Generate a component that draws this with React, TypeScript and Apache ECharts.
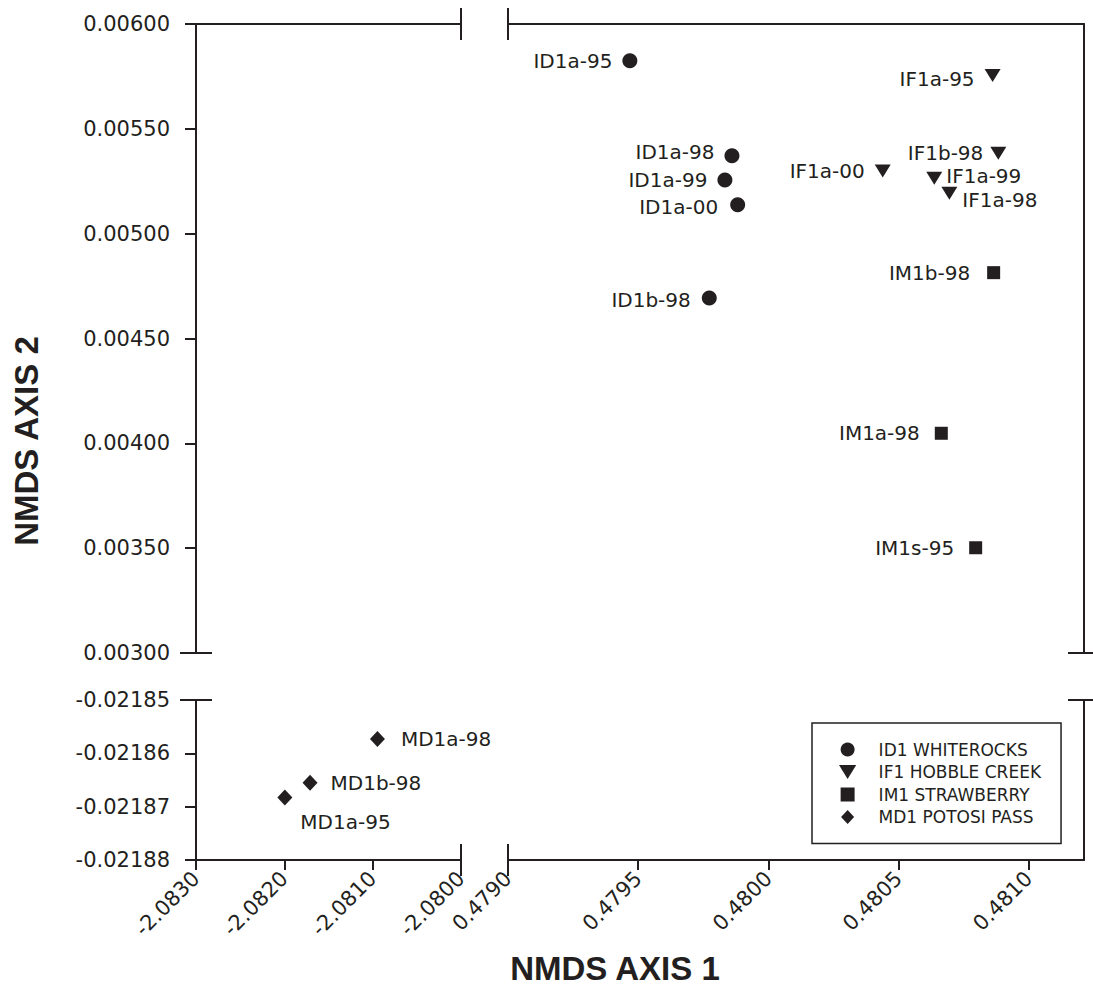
import React, { useEffect, useRef } from 'react';
import * as echarts from 'echarts';

// ---------- data ----------
const groupNames = ['ID1 WHITEROCKS', 'IF1 HOBBLE CREEK', 'IM1 STRAWBERRY', 'MD1 POTOSI PASS'];

const id1Names = ['ID1a-95', 'ID1a-98', 'ID1a-99', 'ID1a-00', 'ID1b-98'];
const id1X = [0.479468, 0.47986, 0.479833, 0.479882, 0.479773];
const id1Y = [0.005825, 0.005372, 0.005256, 0.005138, 0.004693];

const if1Names = ['IF1a-95', 'IF1b-98', 'IF1a-00', 'IF1a-99', 'IF1a-98'];
const if1X = [0.480861, 0.480883, 0.480439, 0.480637, 0.480695];
const if1Y = [0.005754, 0.005383, 0.005299, 0.005264, 0.005193];

const im1Names = ['IM1b-98', 'IM1a-98', 'IM1s-95'];
const im1X = [0.480865, 0.480664, 0.480796];
const im1Y = [0.004814, 0.004048, 0.003502];

const md1Names = ['MD1a-98', 'MD1b-98', 'MD1a-95'];
const md1X = [-2.080946, -2.081709, -2.081994];
const md1Y = [-0.0218573, -0.0218655, -0.0218683];

const xLeftTicks = [-2.083, -2.082, -2.081, -2.08];
const xRightTicks = [0.479, 0.4795, 0.48, 0.4805, 0.481];
const yTopTicks = [0.003, 0.0035, 0.004, 0.0045, 0.005, 0.0055, 0.006];
const yBottomTicks = [-0.02188, -0.02187, -0.02186, -0.02185];

const xLeftRange = [-2.083, -2.08];
const xRightRange = [0.479, 0.481212];
const yTopRange = [0.003, 0.006];
const yBottomRange = [-0.02188, -0.02185];

const xTitle = 'NMDS AXIS 1';
const yTitle = 'NMDS AXIS 2';

// ---------- styles ----------
const INK = '#231f20';
const FONT = 'DejaVu Sans';
const TITLE_FONT = 'Liberation Sans, Arial, sans-serif';

// label placement per point: [side, distance, dx, dy]
const labelPlace: Record<string, [string, number, number, number]> = {
  'ID1a-95': ['left', 10, 0, 0],
  'ID1a-98': ['left', 10, 0, -4],
  'ID1a-99': ['left', 10, 0, 0],
  'ID1a-00': ['left', 12, 0, 2],
  'ID1b-98': ['left', 11, 0, 2],
  'IF1a-95': ['left', 10, 0, 3],
  'IF1b-98': ['left', 7, 0, 0],
  'IF1a-00': ['left', 10, 0, 0],
  'IF1a-99': ['right', 4, 0, -2],
  'IF1a-98': ['right', 5, 0, 7],
  'IM1b-98': ['left', 17, 0, 0],
  'IM1a-98': ['left', 15, 0, 0],
  'IM1s-95': ['left', 15, 0, 0],
  'MD1a-98': ['right', 16, 0, 0],
  'MD1b-98': ['right', 13, 0, 0],
  'MD1a-95': ['right', 8, 0, 24],
};

// layout (px)
const L1 = 196, R1 = 461, L2 = 508, R2 = 1084;
const T1 = 24, B1 = 653, T2 = 700, B2 = 860;
const BRK = 16;

const TRI = 'path://M0,0L16,0L8,13Z';
const SQR = 'path://M0,0L12,0L12,12L0,12Z';
const DIA = 'path://M7,0L14,7.5L7,15L0,7.5Z';

function build(names: string[], xs: number[], ys: number[]) {
  return names.map((n, i) => {
    const p = labelPlace[n] || ['right', 8, 0, 0];
    return {
      name: n,
      value: [xs[i], ys[i]],
      label: { position: p[0], distance: p[1], offset: [p[2], p[3]] },
    };
  });
}

export default function App() {
  const ref = useRef<HTMLDivElement>(null);
  useEffect(() => {
    if (!ref.current) return;
    const chart = echarts.init(ref.current, null, { renderer: 'svg' });

    const lineStyle = { color: INK, width: 2 };
    const tickLabel = { color: INK, fontSize: 21, fontFamily: FONT };

    const hiddenAxis = (gridIndex: number, position: string, range: number[]) => ({
      type: 'value', gridIndex, position, min: range[0], max: range[1],
      axisLine: { show: true, onZero: false, lineStyle },
      axisTick: { show: false }, axisLabel: { show: false }, splitLine: { show: false },
    });

    const xLabeled = (gridIndex: number, range: number[], ticks: number[]) => ({
      type: 'value', gridIndex, position: 'bottom', min: range[0], max: range[1],
      axisLine: { show: true, onZero: false, lineStyle },
      axisTick: { show: true, length: 10, inside: false, lineStyle, customValues: ticks },
      axisLabel: {
        show: true, rotate: 45, margin: 15, customValues: ticks, ...tickLabel,
        formatter: (v: number) => v.toFixed(4),
      },
      splitLine: { show: false },
    });

    const yLabeled = (gridIndex: number, range: number[], ticks: number[]) => ({
      type: 'value', gridIndex, position: 'left', min: range[0], max: range[1],
      axisLine: { show: true, onZero: false, lineStyle },
      axisTick: { show: true, length: 11, inside: false, lineStyle, customValues: ticks },
      axisLabel: {
        show: true, margin: 26, customValues: ticks, ...tickLabel,
        formatter: (v: number) => v.toFixed(5),
      },
      splitLine: { show: false },
    });

    const pointLabel = {
      show: true, formatter: '{b}', color: INK, fontSize: 20, fontFamily: FONT,
    };

    const breakLines = [
      [R1, T1 - BRK, R1, T1 + BRK], [L2, T1 - BRK, L2, T1 + BRK],
      [R1, B2 - BRK, R1, B2 + BRK], [L2, B2 - BRK, L2, B2 + BRK],
      [L1 - BRK, B1, L1 + BRK, B1], [L1 - BRK, T2, L1 + BRK, T2],
      [R2 - BRK, B1, R2 + BRK, B1], [R2 - BRK, T2, R2 + BRK, T2],
    ].map((s) => ({
      type: 'line', shape: { x1: s[0], y1: s[1], x2: s[2], y2: s[3] },
      style: { stroke: INK, lineWidth: 2 }, silent: true,
    }));

    const option: any = {
      animation: false,
      backgroundColor: '#ffffff',
      grid: [
        { left: L1, top: T1, width: R1 - L1, height: B1 - T1, outerBoundsMode: 'none' },
        { left: L2, top: T1, width: R2 - L2, height: B1 - T1, outerBoundsMode: 'none' },
        { left: L1, top: T2, width: R1 - L1, height: B2 - T2, outerBoundsMode: 'none' },
        { left: L2, top: T2, width: R2 - L2, height: B2 - T2, outerBoundsMode: 'none' },
      ],
      xAxis: [
        hiddenAxis(0, 'top', xLeftRange),
        hiddenAxis(1, 'top', xRightRange),
        xLabeled(2, xLeftRange, xLeftTicks),
        xLabeled(3, xRightRange, xRightTicks),
      ],
      yAxis: [
        yLabeled(0, yTopRange, yTopTicks),
        hiddenAxis(1, 'right', yTopRange),
        yLabeled(2, yBottomRange, yBottomTicks),
        hiddenAxis(3, 'right', yBottomRange),
      ],
      legend: {
        orient: 'vertical', left: 812, top: 723,
        itemWidth: 52, itemHeight: 14, itemGap: 5.5,
        padding: [18, 20, 18, 27],
        borderColor: INK, borderWidth: 1.5,
        selectedMode: false, symbolKeepAspect: true,
        textStyle: { color: INK, fontSize: 17, fontFamily: FONT },
        data: [
          { name: groupNames[0], icon: 'circle' },
          { name: groupNames[1], icon: TRI },
          { name: groupNames[2], icon: SQR },
          { name: groupNames[3], icon: DIA },
        ],
      },
      series: [
        {
          name: groupNames[0], type: 'scatter', xAxisIndex: 1, yAxisIndex: 1,
          symbol: 'circle', symbolSize: 15, itemStyle: { color: INK, opacity: 1 },
          label: pointLabel, data: build(id1Names, id1X, id1Y),
        },
        {
          name: groupNames[1], type: 'scatter', xAxisIndex: 1, yAxisIndex: 1,
          symbol: TRI, symbolSize: [16, 13], symbolKeepAspect: false, itemStyle: { color: INK, opacity: 1 },
          label: pointLabel, data: build(if1Names, if1X, if1Y),
        },
        {
          name: groupNames[2], type: 'scatter', xAxisIndex: 1, yAxisIndex: 1,
          symbol: 'rect', symbolSize: 13, itemStyle: { color: INK, opacity: 1 },
          label: pointLabel, data: build(im1Names, im1X, im1Y),
        },
        {
          name: groupNames[3], type: 'scatter', xAxisIndex: 2, yAxisIndex: 2,
          symbol: 'diamond', symbolSize: [15, 16], itemStyle: { color: INK, opacity: 1 },
          label: pointLabel, data: build(md1Names, md1X, md1Y),
        },
      ],
      graphic: [
        ...breakLines,
        {
          type: 'text', x: 615, y: 968, silent: true,
          style: {
            text: xTitle, fill: INK, font: `bold 33px ${TITLE_FONT}`,
            align: 'center', verticalAlign: 'middle',
          },
        },
        {
          type: 'text', x: 26, y: 441, rotation: Math.PI / 2, silent: true,
          style: {
            text: yTitle, fill: INK, font: `bold 33px ${TITLE_FONT}`,
            align: 'center', verticalAlign: 'middle',
          },
        },
      ],
    };

    chart.setOption(option);
    return () => chart.dispose();
  }, []);

  return (
    <div
      ref={ref}
      style={{ position: 'absolute', left: 0, top: 0, width: 1093, height: 1008 }}
    />
  );
}
